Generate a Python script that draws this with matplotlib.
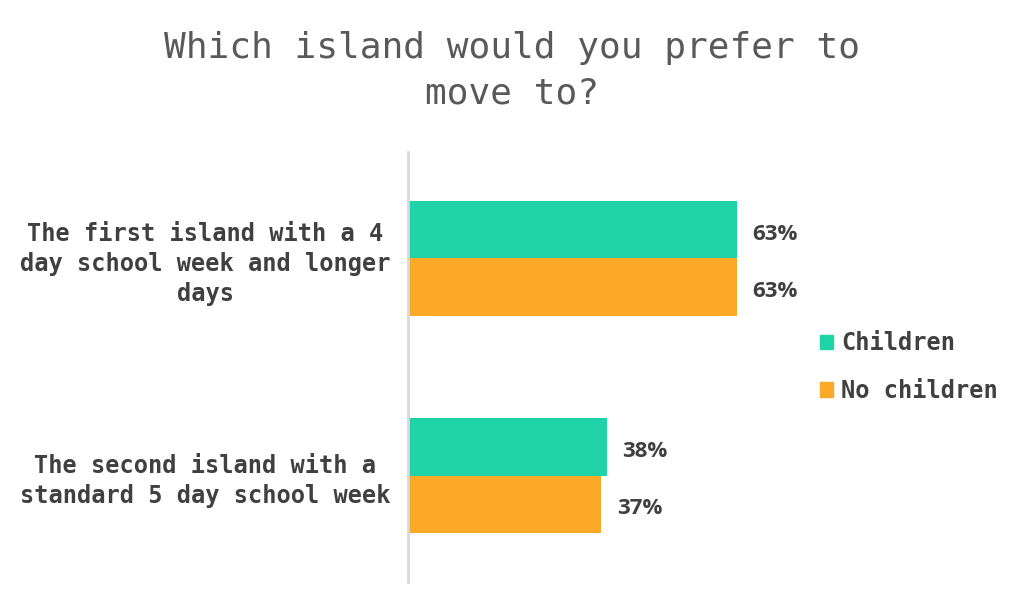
import matplotlib
matplotlib.use("Agg")
import matplotlib.pyplot as plt
from matplotlib.patches import Patch

categories = ["The first island with a 4\nday school week and longer\ndays",
              "The second island with a\nstandard 5 day school week"]
series_names = ["Children", "No children"]
children = [63, 38]
no_children = [63, 37]
colors = ["#1fd3a6", "#fba927"]
text_color = "#404040"

fig = plt.figure(figsize=(10.24, 6.15), dpi=100)
ax = fig.add_axes([0.3985, 0.0537, 0.51, 0.699])

y = [0, 1]
h = 0.263
ax.barh([v - h / 2 for v in y], children, height=h, color=colors[0], label=series_names[0])
ax.barh([v + h / 2 for v in y], no_children, height=h, color=colors[1], label=series_names[1])

for yi, c, n in zip(y, children, no_children):
    ax.text(c + 3, yi - h / 2 + 0.02, f"{c}%", va="center", ha="left", fontsize=16,
            fontweight="bold", family="Open Sans", color=text_color)
    ax.text(n + 3, yi + h / 2 + 0.02, f"{n}%", va="center", ha="left", fontsize=16,
            fontweight="bold", family="Open Sans", color=text_color)

ax.set_xlim(0, 100)
ax.set_ylim(1.49, -0.49)
ax.set_yticks(y)
ax.set_yticklabels(categories, fontsize=17, family="DejaVu Sans Mono", fontweight="bold",
                   color=text_color, ha="center", linespacing=1.3)
ax.tick_params(axis="y", length=0, pad=146)
ax.set_xticks([])
for s in ["top", "right", "bottom"]:
    ax.spines[s].set_visible(False)
ax.spines["left"].set_color("#d9d9d9")
ax.spines["left"].set_linewidth(2)

fig.text(0.5, 0.885, "Which island would you prefer to\nmove to?", ha="center", va="center",
         fontsize=26, family="DejaVu Sans Mono", color="#595959", linespacing=1.4)

handles = [Patch(color=colors[0]), Patch(color=colors[1])]
leg = fig.legend(handles, series_names, loc="center left", bbox_to_anchor=(0.78, 0.403),
                 frameon=False, handlelength=0.55, handleheight=0.55, handletextpad=0.35,
                 labelspacing=1.0, prop={"family": "DejaVu Sans Mono", "weight": "bold", "size": 17})
for t in leg.get_texts():
    t.set_color(text_color)

fig.savefig("out.png", dpi=100, facecolor="white")
